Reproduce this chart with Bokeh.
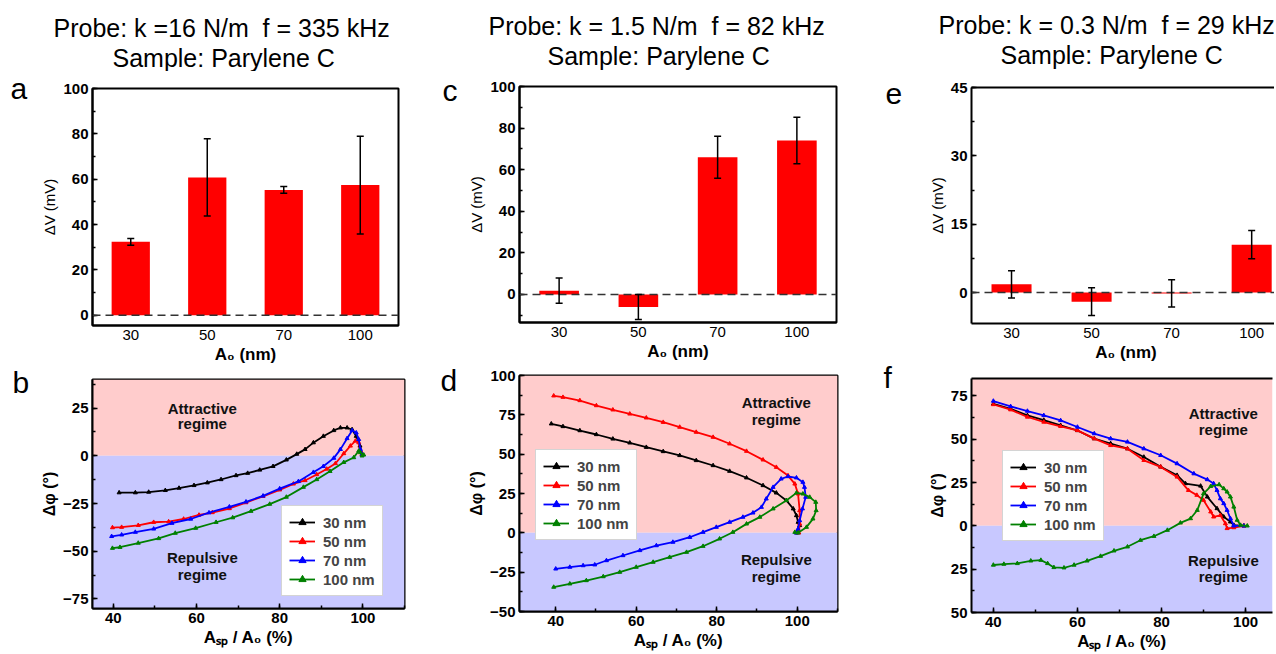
from bokeh.plotting import figure
from bokeh.models import (ColumnDataSource, Whisker, TeeHead, Span, BoxAnnotation, Label,
                          Legend, LegendItem, LinearAxis, SingleIntervalTicker, FixedTicker)
from bokeh.layouts import row, column
from bokeh.embed import file_html
from bokeh.resources import INLINE

FONT = "Liberation Sans"

# ---------------- data ----------------
amplitudes = ["30", "50", "70", "100"]

a_vals = [32.4, 60.8, 55.3, 57.4]
a_err = [1.5, 17.0, 1.5, 21.6]
c_vals = [1.8, -6.0, 66.0, 74.0]
c_err = [6.1, 6.0, 10.1, 11.2]
e_vals = [1.8, -2.0, -0.2, 10.5]
e_err = [3.0, 3.05, 3.0, 3.1]

series_names = ["30 nm", "50 nm", "70 nm", "100 nm"]
series_colors = ["#000000", "#FF0000", "#0000FF", "#008000"]

# panel b
b_30_x = [41.4, 45.3, 48.5, 52.5, 55.8, 59.4, 62.6, 65.9, 69.5, 72.3, 75.2, 78.4, 81.6, 84.1, 86.1, 88.1, 90.5, 93.0, 94.6, 96.2, 97.4, 98.4, 99.3, 99.8]
b_30_y = [-19.3, -19.3, -19.0, -18.1, -16.9, -15.5, -14.1, -12.4, -10.3, -9.1, -7.4, -5.5, -2.1, 0.9, 3.4, 6.9, 10.3, 13.3, 14.7, 14.7, 13.8, 10.3, 5.2, 0.9]
b_50_x = [39.8, 42.0, 46.0, 49.7, 53.3, 56.9, 60.6, 63.8, 67.9, 71.9, 76.0, 80.0, 83.3, 86.1, 88.9, 91.3, 93.4, 95.4, 97.0, 98.2, 99.0, 99.4, 99.8]
b_50_y = [-37.6, -37.4, -36.4, -34.8, -34.5, -33.1, -31.0, -29.7, -27.6, -24.5, -21.2, -17.8, -14.7, -12.9, -9.8, -6.9, -4.0, 1.2, 5.2, 7.8, 6.9, 2.6, 0.9]
b_70_x = [39.6, 42.0, 45.3, 49.7, 54.1, 58.6, 63.0, 67.9, 71.9, 76.0, 80.0, 84.5, 88.1, 90.5, 93.0, 94.6, 96.2, 97.4, 98.4, 99.0, 99.4, 99.8]
b_70_y = [-42.2, -41.4, -40.0, -38.3, -35.3, -33.1, -29.8, -26.7, -24.1, -21.0, -17.2, -13.4, -8.6, -5.5, -1.2, 3.4, 9.1, 13.3, 12.1, 8.6, 3.4, 0.9]
b_100_x = [39.8, 41.6, 46.0, 50.9, 54.9, 59.8, 64.7, 68.7, 73.1, 77.6, 81.6, 85.7, 88.9, 92.1, 95.4, 97.8, 99.0, 99.4, 100.2, 99.8]
b_100_y = [-48.4, -47.9, -45.7, -43.3, -40.5, -37.9, -34.8, -32.4, -29.0, -25.3, -21.6, -16.4, -12.4, -8.1, -3.4, -0.9, 2.6, 1.7, 0.5, 0.0]

# panel d
d_30_x = [38.9, 41.8, 46.0, 50.1, 54.2, 58.4, 62.5, 66.7, 70.8, 74.9, 79.1, 83.2, 87.4, 91.5, 94.8, 97.3, 99.0, 99.8, 100.2, 100.6, 100.2, 99.8]
d_30_y = [69.3, 67.6, 65.0, 62.5, 59.7, 57.2, 54.4, 51.7, 49.2, 46.0, 42.8, 39.2, 35.0, 30.1, 25.4, 20.6, 15.3, 11.0, 6.8, 4.7, 1.5, 0.0]
d_50_x = [39.5, 41.8, 46.0, 50.1, 54.2, 58.4, 62.5, 66.7, 70.8, 74.9, 79.1, 83.2, 87.4, 91.5, 94.8, 97.7, 99.4, 100.2, 100.6, 100.6, 100.4]
d_50_y = [87.1, 86.2, 84.1, 80.9, 78.2, 75.6, 73.1, 70.3, 67.2, 64.0, 60.8, 56.6, 51.9, 46.4, 41.7, 36.4, 31.1, 24.8, 14.2, 5.7, 0.0]
d_70_x = [40.0, 43.5, 46.8, 49.7, 52.6, 56.7, 60.9, 65.0, 69.1, 73.3, 76.6, 79.9, 83.2, 86.5, 89.0, 91.1, 92.3, 94.0, 96.0, 97.7, 99.8, 101.4, 101.8, 102.1, 101.3, 100.6, 100.2, 99.8]
d_70_y = [-22.9, -21.8, -20.8, -20.3, -17.6, -14.4, -11.2, -8.1, -5.9, -2.8, 0.4, 3.6, 6.8, 10.0, 12.7, 16.3, 21.6, 29.0, 34.3, 35.8, 35.0, 32.2, 29.0, 22.7, 15.3, 7.8, 2.5, 0.0]
d_100_x = [39.5, 43.5, 47.6, 51.8, 55.9, 60.0, 64.2, 68.3, 72.5, 76.6, 80.7, 84.0, 87.4, 90.7, 94.0, 97.3, 99.8, 101.4, 103.1, 104.6, 104.7, 103.9, 102.3, 100.2, 99.4]
d_100_y = [-34.5, -32.4, -30.3, -27.8, -25.0, -21.8, -18.6, -15.5, -12.3, -8.5, -3.8, 0.4, 5.7, 10.0, 15.3, 20.6, 25.4, 24.8, 22.7, 19.5, 14.2, 8.9, 3.6, 0.0, 0.4]

# panel f
f_30_x = [40.0, 44.1, 48.1, 52.0, 56.0, 60.0, 64.0, 67.9, 71.9, 75.8, 79.8, 83.7, 85.7, 89.3, 90.9, 93.2, 94.8, 96.4, 97.2, 99.6]
f_30_y = [70.4, 67.5, 63.7, 61.0, 58.0, 55.0, 50.3, 47.5, 44.5, 39.7, 34.0, 29.2, 24.4, 23.0, 16.7, 10.0, 5.2, 2.3, 0.4, 0.0]
f_50_x = [40.0, 44.1, 48.1, 52.0, 56.0, 60.0, 64.0, 67.9, 71.9, 75.8, 79.8, 83.7, 86.4, 88.4, 90.0, 91.7, 92.4, 94.0, 95.2, 95.6, 97.2, 99.6]
f_50_y = [70.0, 67.0, 62.8, 59.9, 57.4, 55.1, 50.3, 46.4, 44.5, 37.8, 34.0, 28.2, 20.5, 17.7, 14.8, 8.1, 5.2, 6.1, 1.3, -1.5, -1.0, 0.0]
f_70_x = [40.0, 44.1, 48.1, 52.0, 56.0, 60.0, 64.0, 67.9, 71.9, 75.8, 79.8, 83.7, 87.7, 90.9, 92.4, 93.2, 94.0, 94.8, 95.6, 96.4, 97.2, 99.6]
f_70_y = [72.0, 68.9, 66.2, 63.7, 60.8, 57.0, 53.2, 50.3, 48.4, 44.5, 40.7, 35.9, 30.1, 26.7, 24.4, 20.5, 15.7, 12.9, 9.0, 4.2, 0.0, 0.0]
f_100_x = [40.0, 42.5, 45.7, 48.9, 51.3, 52.9, 54.4, 56.8, 59.2, 62.3, 65.5, 68.7, 71.9, 75.0, 78.2, 81.4, 84.5, 86.9, 88.5, 90.0, 91.7, 93.7, 94.8, 95.6, 96.4, 97.2, 98.0, 98.8, 100.4]
f_100_y = [-22.6, -22.1, -21.7, -20.2, -19.8, -21.7, -24.0, -24.2, -22.6, -20.2, -17.5, -14.4, -12.1, -8.3, -6.0, -2.5, 1.7, 4.2, 9.0, 18.6, 22.8, 23.8, 21.5, 19.6, 16.7, 10.9, 3.3, 0.4, 0.0]

titles_line1 = ["Probe: k =16 N/m\u00a0 f = 335 kHz",
                "Probe: k = 1.5 N/m\u00a0 f = 82 kHz",
                "Probe: k = 0.3 N/m\u00a0 f = 29 kHz"]
title_line2 = "Sample: Parylene C"
panel_letters = ["a", "b", "c", "d", "e", "f"]

PAGE_W = 1274
HEADER_H = 71
BODY_H = 581


# ---------------- helpers ----------------
def blank_fig(w, h):
    p = figure(frame_width=w, frame_height=h, min_border=0, x_axis_location=None,
               y_axis_location=None, x_range=(0, w), y_range=(0, h),
               output_backend="svg", toolbar_location=None)
    p.outline_line_color = None
    p.grid.visible = False
    p.background_fill_color = "white"
    p.border_fill_color = "white"
    return p


def left_label(p, txt, x, y, size):
    p.add_layout(Label(x=x, y=y, x_units="screen", y_units="screen", text=txt,
                       text_font=FONT, text_font_size=size, text_color="black",
                       text_align="left", text_baseline="middle"))


def strip_fig(w, letters):
    p = blank_fig(w, BODY_H)
    for txt, x, y in letters:
        left_label(p, txt, x, y, "30px")
    return p


def base_fig(fw, fh, L, R, T, B, xr, yr, cut_right):
    p = figure(frame_width=fw, frame_height=fh, min_border_left=L, min_border_right=R,
               min_border_top=T, min_border_bottom=B, x_range=xr, y_range=yr,
               output_backend="svg", toolbar_location=None)
    p.grid.visible = False
    p.background_fill_color = "white"
    p.border_fill_color = "white"
    xa, ya = p.below[0], p.left[0]
    for ax in (xa, ya):
        ax.axis_line_width = 2
        ax.axis_line_color = "black"
        ax.major_tick_in = 5
        ax.major_tick_out = 0
        ax.minor_tick_in = 3
        ax.minor_tick_out = 0
        ax.major_tick_line_width = 1.5
        ax.minor_tick_line_width = 1.5
        ax.major_tick_line_color = "black"
        ax.minor_tick_line_color = "black"
        ax.major_label_text_font = FONT
        ax.major_label_text_font_size = "15px"
        ax.major_label_text_color = "black"
        ax.axis_label_text_font = FONT
        ax.axis_label_text_color = "black"
        ax.major_label_standoff = 4
        ax.axis_label_standoff = 2
    if cut_right:
        p.outline_line_color = None
        top = LinearAxis(ticker=FixedTicker(ticks=[]), major_tick_out=0, minor_tick_out=0,
                         major_tick_in=0, minor_tick_in=0, major_label_standoff=0,
                         axis_line_width=2, axis_line_color="black")
        p.add_layout(top, "above")
    else:
        p.outline_line_color = "black"
        p.outline_line_width = 2
        p.outline_line_alpha = 1
    return p, xa, ya


def bar_panel(vals, errs, fw, fh, L, R, T, B, xr, yr, interval, cut_right):
    p, xa, ya = base_fig(fw, fh, L, R, T, B, xr, yr, cut_right)
    xs = list(range(1, len(amplitudes) + 1))
    src = ColumnDataSource(dict(x=xs, top=vals,
                                upper=[v + e for v, e in zip(vals, errs)],
                                lower=[v - e for v, e in zip(vals, errs)]))
    p.vbar(x="x", top="top", bottom=0, width=0.5, source=src, fill_color="#FF0000", line_color=None)
    p.add_layout(Span(location=0, dimension="width", line_color="#333333", line_width=1.5,
                      line_dash="8 5"))
    w = Whisker(base="x", upper="upper", lower="lower", source=src, line_color="black",
                line_width=1.5, level="annotation",
                upper_head=TeeHead(size=7, line_width=1.5, line_color="black"),
                lower_head=TeeHead(size=7, line_width=1.5, line_color="black"))
    p.add_layout(w)
    xa.ticker = FixedTicker(ticks=xs)
    xa.major_label_overrides = {i: a for i, a in zip(xs, amplitudes)}
    xa.major_tick_in = 0
    xa.axis_label = "A\u2080 (nm)"
    xa.axis_label_text_font_size = "17px"
    xa.axis_label_text_font_style = "bold"
    ya.ticker = SingleIntervalTicker(interval=interval, num_minor_ticks=2)
    ya.major_label_text_font_style = "bold"
    ya.axis_label = "\u0394V (mV)"
    ya.axis_label_text_font_size = "15px"
    ya.axis_label_text_font_style = "normal"
    return p


def curve_panel(curves, fw, fh, L, R, T, B, xr, yr, texts, legend_loc, cut_right, overrides=None):
    p, xa, ya = base_fig(fw, fh, L, R, T, B, xr, yr, cut_right)
    p.add_layout(BoxAnnotation(bottom=0, fill_color="#FFCCCC", fill_alpha=1, line_color=None, level="underlay"))
    p.add_layout(BoxAnnotation(top=0, fill_color="#C8C8FF", fill_alpha=1, line_color=None, level="underlay"))
    items = []
    for (xs, ys), name, col in zip(curves, series_names, series_colors):
        src = ColumnDataSource(dict(x=xs, y=ys))
        l = p.line("x", "y", source=src, line_color=col, line_width=1.8)
        s = p.scatter("x", "y", source=src, marker="triangle", size=4, color=col)
        items.append(LegendItem(label=name, renderers=[l, s]))
    for (tx, ty, t) in texts:
        p.add_layout(Label(x=tx, y=ty, text=t, text_font=FONT, text_font_size="15px",
                           text_font_style="bold", text_color="#111111",
                           text_align="center", text_baseline="middle"))
    leg = Legend(items=items, location=legend_loc)
    leg.label_text_font = FONT
    leg.label_text_font_style = "bold"
    leg.label_text_font_size = "15px"
    leg.glyph_width = 26
    leg.glyph_height = 18
    leg.label_height = 18
    leg.spacing = 1
    leg.padding = 7
    leg.margin = 0
    leg.label_standoff = 8
    leg.border_line_color = "#AAAAAA"
    leg.border_line_width = 1
    leg.background_fill_color = "white"
    leg.background_fill_alpha = 1
    p.add_layout(leg)
    xa.ticker = SingleIntervalTicker(interval=20, num_minor_ticks=2)
    xa.major_label_text_font_style = "bold"
    xa.axis_label = "A\u209b\u209a / A\u2080 (%)"
    xa.axis_label_text_font_size = "17px"
    xa.axis_label_text_font_style = "bold"
    ya.ticker = SingleIntervalTicker(interval=25, num_minor_ticks=2)
    ya.major_label_text_font_style = "bold"
    if overrides:
        ya.major_label_overrides = overrides
    ya.axis_label = "\u0394\u03c6 (\u00b0)"
    ya.axis_label_text_font_size = "16px"
    ya.axis_label_text_font_style = "bold"
    return p


# ---------------- header with the three probe titles ----------------
header = blank_fig(PAGE_W, HEADER_H)
for line1, (x1, y1), (x2, y2) in zip(titles_line1,
                                     [(53, 44), (488, 46), (938, 47)],
                                     [(112, 14), (547, 16), (1000, 17)]):
    left_label(header, line1, x1, y1, "25px")
    left_label(header, title_line2, x2, y2, "25px")

# ---------------- column 1 (a, b) ----------------
s1 = strip_fig(32, [(panel_letters[0], 10, 564), (panel_letters[1], 12, 270)])
pa = bar_panel(a_vals, a_err, 306, 237, 60, 32, 17, 41, (0.5, 4.5), (-4.5, 100), 20, False)
pb = curve_panel([(b_30_x, b_30_y), (b_50_x, b_50_y), (b_70_x, b_70_y), (b_100_x, b_100_y)],
                 312, 229, 58, 28, 13, 44, (35, 110), (-80, 40),
                 [(61.4, 25, "Attractive"), (61.4, 17.2, "regime"),
                  (61.4, -53.4, "Repulsive"), (61.4, -62.1, "regime")],
                 (189, 12), False)

# ---------------- column 2 (c, d) ----------------
s2 = strip_fig(32, [(panel_letters[2], 12, 562), (panel_letters[3], 10, 272)])
pc = bar_panel(c_vals, c_err, 317, 236, 57, 24, 15, 44, (0.5, 4.5), (-13.5, 100), 20, False)
pd_ = curve_panel([(d_30_x, d_30_y), (d_50_x, d_50_y), (d_70_x, d_70_y), (d_100_x, d_100_y)],
                  318, 236, 57, 23, 9, 41, (31, 110), (-50, 100),
                  [(94.8, 83, "Attractive"), (94.8, 72, "regime"),
                   (94.8, -17.2, "Repulsive"), (94.8, -27.8, "regime")],
                  (16, 71), False)

# ---------------- column 3 (e, f) ----------------
s3 = strip_fig(50, [(panel_letters[4], 25, 559), (panel_letters[5], 23, 275)])
pe = bar_panel(e_vals, e_err, 309, 236, 53, 2, 16, 43, (0.5, 4.36), (-6.8, 45), 15, True)
pf = curve_panel([(f_30_x, f_30_y), (f_50_x, f_50_y), (f_70_x, f_70_y), (f_100_x, f_100_y)],
                 301, 234, 61, 2, 12, 40, (34.8, 106.4), (-50, 85),
                 [(94.7, 64.7, "Attractive"), (94.7, 55.7, "regime"),
                  (94.7, -20.2, "Repulsive"), (94.7, -29.4, "regime")],
                 (31, 71), True, overrides={-25: "25", -50: "50"})

body = row(s1, column(pa, pb), s2, column(pc, pd_), s3, column(pe, pf))
layout = column(header, body)

open("out.html", "w").write(file_html(layout, INLINE))
